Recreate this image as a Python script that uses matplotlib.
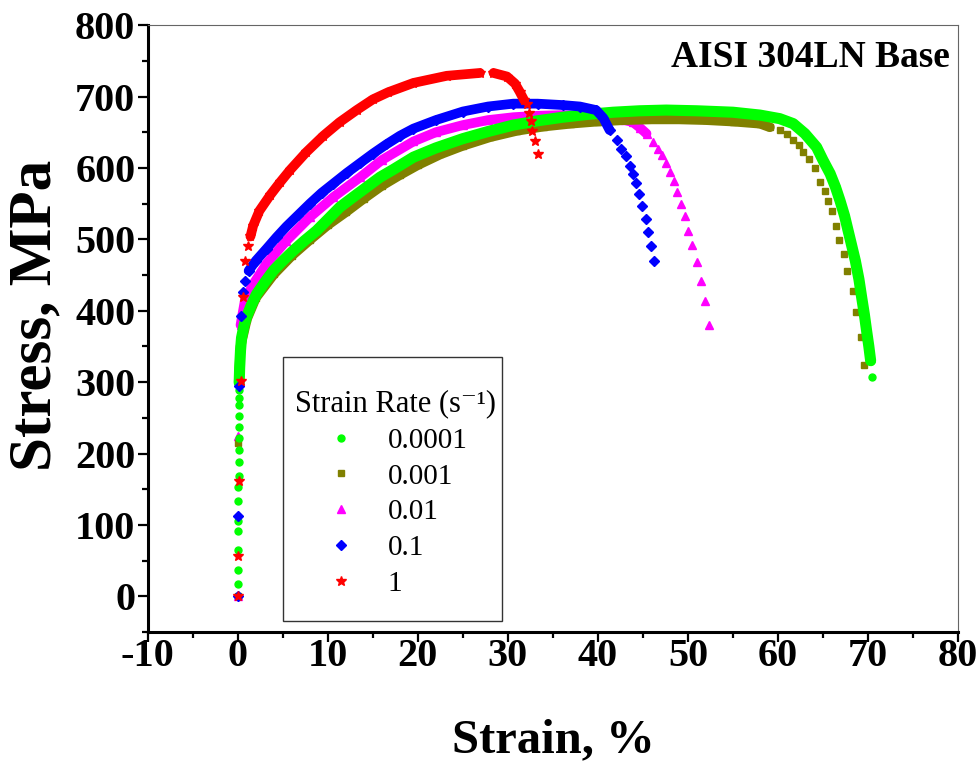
import matplotlib
matplotlib.use('Agg')
import matplotlib.pyplot as plt
from matplotlib.ticker import MultipleLocator
from matplotlib.patches import Rectangle

plt.rcParams['font.family'] = ['Liberation Serif', 'DejaVu Serif']
plt.rcParams['axes.unicode_minus'] = False

# Strain (%) / stress (MPa); *_band = index range drawn as a dense band
g_strain = [0.0, 0.0, 0.0, 0.05, 0.05, 0.05, 0.05, 0.05, 0.1, 0.1, 0.1, 0.1, 0.1, 0.1, 0.1, 0.1, 0.1,
            0.15, 0.2, 0.3, 0.41, 0.7, 0.96, 1.5, 2.07, 3.0, 3.93, 5.0, 6.15, 7.4, 8.74, 10.0, 11.33, 12.8,
            14.3, 15.8, 17.3, 19.5, 22.0, 25.0, 27.8, 30.6, 33.3, 36.1, 38.9, 41.7, 44.6, 47.6, 51.0, 55.0,
            58.0, 60.2, 61.7, 63.0, 64.3, 65.0, 65.8, 66.4, 66.9, 67.4, 67.8, 68.2, 68.6, 69.0, 69.3, 69.6,
            69.85, 70.1, 70.3, 70.5]
g_stress = [0, 17, 37, 65, 91, 105, 133, 153, 168, 188, 205, 222, 237, 253, 268, 278, 289,
            299, 320, 345, 362, 380, 391, 408, 423, 440, 456, 470, 484, 498, 512, 528, 545, 559,
            573, 587, 598, 615, 628, 641, 651, 660, 666, 671, 675, 678, 680, 681, 680, 678,
            674, 669, 662, 648, 629, 611, 592, 573, 554, 533, 512, 491, 470, 444, 419, 395,
            372, 350, 330, 307]
g_band = (17, 69)

o_strain = [0.0, 0.05, 0.1, 0.3, 1.0, 2.0, 4.0, 6.0, 8.0, 10.0, 12.0, 14.0, 16.0, 18.0, 20.0, 22.5, 25.0,
            28.0, 31.0, 34.0, 37.0, 40.0, 43.0, 46.0, 49.0, 52.0, 55.0, 58.0, 59.1, 60.2, 61.0, 61.7,
            62.3, 62.8, 63.4, 64.1, 64.7, 65.2, 65.6, 66.0, 66.4, 66.8, 67.3, 67.7, 68.3, 68.7, 69.2, 69.6]
o_stress = [0, 215, 300, 350, 388, 418, 451, 477, 499, 520, 538, 557, 575, 590, 604, 619, 631,
            643, 652, 658, 662, 665, 667, 668, 668, 667, 665, 662, 657, 653, 648, 639,
            632, 622, 613, 600, 580, 568, 554, 539, 519, 499, 480, 455, 427, 398, 363, 324]
o_band = (2, 29)

m_strain = [0.0, 0.05, 0.1, 0.3, 0.78, 1.7, 3.19, 5.4, 8.0, 10.6, 13.6, 16.0, 19.5, 22.0, 25.0, 27.8, 30.6,
            33.3, 36.1, 39.0, 41.7, 43.0, 43.9, 44.7, 45.4, 46.1, 46.7, 47.1, 47.6, 48.0, 48.4, 48.8,
            49.2, 49.7, 50.0, 50.5, 51.0, 51.4, 51.9, 52.3]
m_stress = [0, 224, 350, 380, 414, 437, 466, 498, 531, 559, 587, 611, 637, 650, 660, 667, 671,
            673, 674, 672, 669, 667, 664, 656, 648, 636, 627, 618, 607, 594, 582, 566,
            549, 533, 512, 492, 468, 442, 413, 380]
m_band = (3, 25)

b_strain = [0.0, 0.05, 0.1, 0.3, 0.6, 0.85, 1.2, 2.0, 3.2, 4.3, 5.4, 6.7, 8.0, 9.3, 10.6, 12.1, 13.6, 15.0,
            16.5, 18.0, 19.5, 22.0, 25.0, 27.8, 30.6, 33.3, 36.1, 38.0, 39.8, 40.6, 41.3, 42.1, 42.6,
            43.1, 43.6, 43.9, 44.2, 44.6, 44.9, 45.3, 45.6, 45.9, 46.2]
b_stress = [0, 112, 295, 393, 426, 441, 456, 470, 487, 503, 518, 534, 550, 565, 578, 593, 607, 620,
            633, 645, 655, 667, 679, 686, 690, 690, 688, 686, 681, 670, 653, 639, 627,
            616, 603, 591, 579, 563, 546, 529, 510, 490, 469]
b_band = (6, 31)

r_strain = [0.0, 0.03, 0.1, 0.33, 0.55, 0.85, 1.15, 1.4, 1.7, 2.4, 3.6, 4.7, 5.8, 7.6, 9.5, 11.3, 13.2,
            15.0, 16.7, 19.5, 23.2, 26.9, 28.4, 29.9, 30.8, 31.3, 31.8, 32.1, 32.3, 32.6, 32.7, 33.0, 33.3]
r_stress = [0, 56, 162, 302, 419, 469, 491, 504, 519, 540, 562, 580, 597, 622, 645, 664, 681,
            696, 706, 719, 729, 733, 733, 728, 718, 707, 695, 689, 677, 666, 652, 638, 620]
r_band = [(7, 22), (22, 27)]

rates = ['0.0001', '0.001', '0.01', '0.1', '1']


def main():
    fig = plt.figure(figsize=(9.79, 7.61), dpi=100)
    ax = fig.add_axes([0.151, 0.1695, 0.8275, 0.7975])

    series = [
        (g_strain, g_stress, [g_band], '#00FF00', 'o', 5.0, 8.0, 3),
        (o_strain, o_stress, [o_band], '#808000', 's', 5.0, 7.0, 2.2),
        (m_strain, m_stress, [m_band], '#FF00FF', '^', 5.5, 7.0, 2),
        (b_strain, b_stress, [b_band], '#0000FF', 'D', 5.0, 7.0, 4),
        (r_strain, r_stress, r_band, '#FF0000', '*', 7.0, 7.0, 5),
    ]
    handles = []
    for (xs, ys, bands, col, mk, ms, lw, z), lab in zip(series, rates):
        for a, b in bands:
            ax.plot(xs[a:b], ys[a:b], color=col, lw=lw, solid_capstyle='round',
                    solid_joinstyle='round', zorder=z)
        h, = ax.plot(xs, ys, ls='none', marker=mk, ms=ms, color=col, mec=col, zorder=z, label=lab)
        handles.append(h)

    ax.set_xlim(-10, 80)
    ax.set_ylim(-50, 800)
    ax.xaxis.set_major_locator(MultipleLocator(10))
    ax.xaxis.set_minor_locator(MultipleLocator(5))
    ax.yaxis.set_major_locator(MultipleLocator(100))
    ax.yaxis.set_minor_locator(MultipleLocator(50))

    for s in ['left', 'bottom']:
        ax.spines[s].set_linewidth(2.2)
        ax.spines[s].set_color('black')
    for s in ['top', 'right']:
        ax.spines[s].set_linewidth(0.8)
        ax.spines[s].set_color('#666666')
    ax.tick_params(which='major', direction='out', length=7.5, width=1.6, top=False, right=False,
                   labelsize=29, pad=1.5)
    ax.tick_params(which='minor', direction='out', length=4.5, width=1.6, top=False, right=False)
    ax.tick_params(axis='x', which='major', pad=-3)
    for lab in ax.get_xticklabels() + ax.get_yticklabels():
        lab.set_fontweight('bold')

    ax.set_xlabel('Strain, %', fontsize=35, fontweight='bold')
    ax.set_ylabel('Stress, MPa', fontsize=44, fontweight='bold')
    ax.xaxis.set_label_coords(0.5, -0.142)
    ax.yaxis.set_label_coords(-0.104, 0.522)

    ax.text(0.99, 0.946, 'AISI 304LN Base', transform=ax.transAxes, ha='right', va='center',
            fontsize=27, fontweight='bold')

    ax.add_patch(Rectangle((0.1667, 0.018), 0.27, 0.435, transform=ax.transAxes, fill=False,
                           edgecolor='#333333', lw=1.0, zorder=6))
    leg = ax.legend(handles=handles, loc='center', bbox_to_anchor=(0.306, 0.229), frameon=False,
                    title='Strain Rate (s\u207b\u00b9)', title_fontsize=22, fontsize=21,
                    handlelength=1.2, handletextpad=1.0, labelspacing=0.32, markerscale=1.0)
    leg.set_zorder(7)

    fig.savefig('out.png', dpi=100)
    plt.close(fig)


if __name__ == '__main__':
    main()
